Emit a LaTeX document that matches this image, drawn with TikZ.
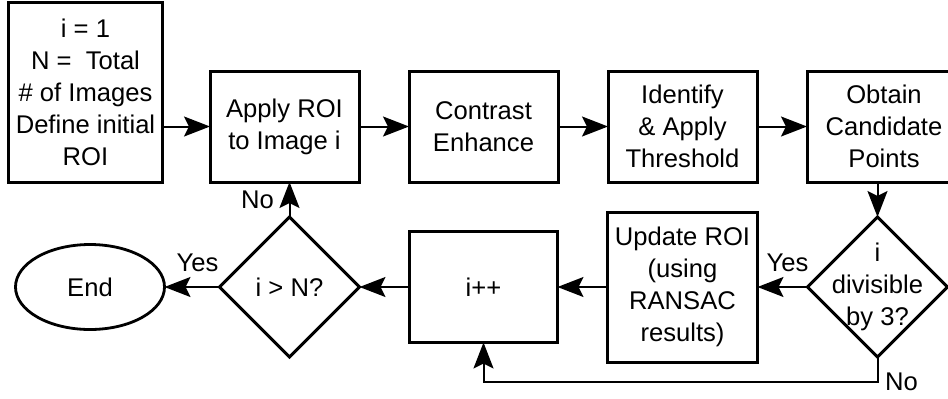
\documentclass[tikz,border=0pt]{standalone}
\usepackage{fontspec}
\setmainfont{Liberation Sans}
\usetikzlibrary{arrows.meta,positioning,shapes.geometric}

\begin{document}
\begin{tikzpicture}[
  node distance=16.5pt and 25pt,
  font=\fontsize{12.8}{16}\selectfont,
  stepbox/.style={draw, line width=1.5pt, outer sep=0pt, align=center, minimum width=74.5pt, minimum height=55.5pt, inner sep=2pt},
  decision/.style={diamond, draw, line width=1.5pt, outer sep=0pt, align=center, minimum width=70pt, minimum height=70pt, inner sep=0pt},
  terminal/.style={ellipse, draw, line width=1.4pt, outer sep=0pt, minimum width=74.5pt, minimum height=42.5pt},
  line/.style={-{Stealth[length=13pt,width=10pt,inset=2.5pt]}, line width=1pt}
]
\useasboundingbox (-4.5pt,1pt) rectangle (469.5pt,-198pt);

% top row: set-up and image processing
\node[stepbox, minimum width=76.5pt, minimum height=90pt, anchor=north west] (init) at (0,0) {i = 1\\N =\ \ Total\\\# of Images\\Define initial\\ROI};
\node[stepbox, right=24pt of init.south east, anchor=south west] (apply) {Apply ROI\\to Image i};
\node[stepbox, right=of apply] (contrast) {Contrast\\Enhance};
\node[stepbox, right=of contrast] (thresh) {Identify\\\& Apply\\Threshold};
\node[stepbox, right=of thresh, minimum width=77pt] (candidates) {Obtain\\Candidate\\Points};

% bottom row: ROI update and loop control
\node[decision, anchor=north, label={[align=center]center:{i\\divisible\\by 3?}}] (divcheck) at ([xshift=35.25pt, yshift=-17.5pt]candidates.south west) {};
\node[stepbox, left=of divcheck, minimum width=75pt, minimum height=75pt] (update) {Update ROI\\(using\\RANSAC\\results)};
\node[stepbox, left=of update, minimum width=74pt] (incr) {i++};
\node[decision, left=of incr] (sizecheck) {i > N?};
\node[terminal, left=27.5pt of sizecheck] (finish) {End};

\draw[line] (init.east |- apply.west) -- (apply);
\draw[line] (apply) -- (contrast);
\draw[line] (contrast) -- (thresh);
\draw[line] (thresh) -- (candidates);
\draw[line] (candidates.south -| divcheck.north) -- (divcheck);
\draw[line] (divcheck) -- node[pos=0.4, above=4pt] {Yes} (update);
\draw[line] (update) -- (incr);
\draw[line] (divcheck.south) -- ++(0,-12.5pt) node[right] {No} -| (incr.south);
\draw[line] (incr) -- (sizecheck);
\draw[line] (sizecheck) -- node[pos=0.4, above=4pt] {Yes} (finish);
\draw[line] (sizecheck.north) -- node[left=4pt] {No} (sizecheck.north |- apply.south);

\end{tikzpicture}
\end{document}
